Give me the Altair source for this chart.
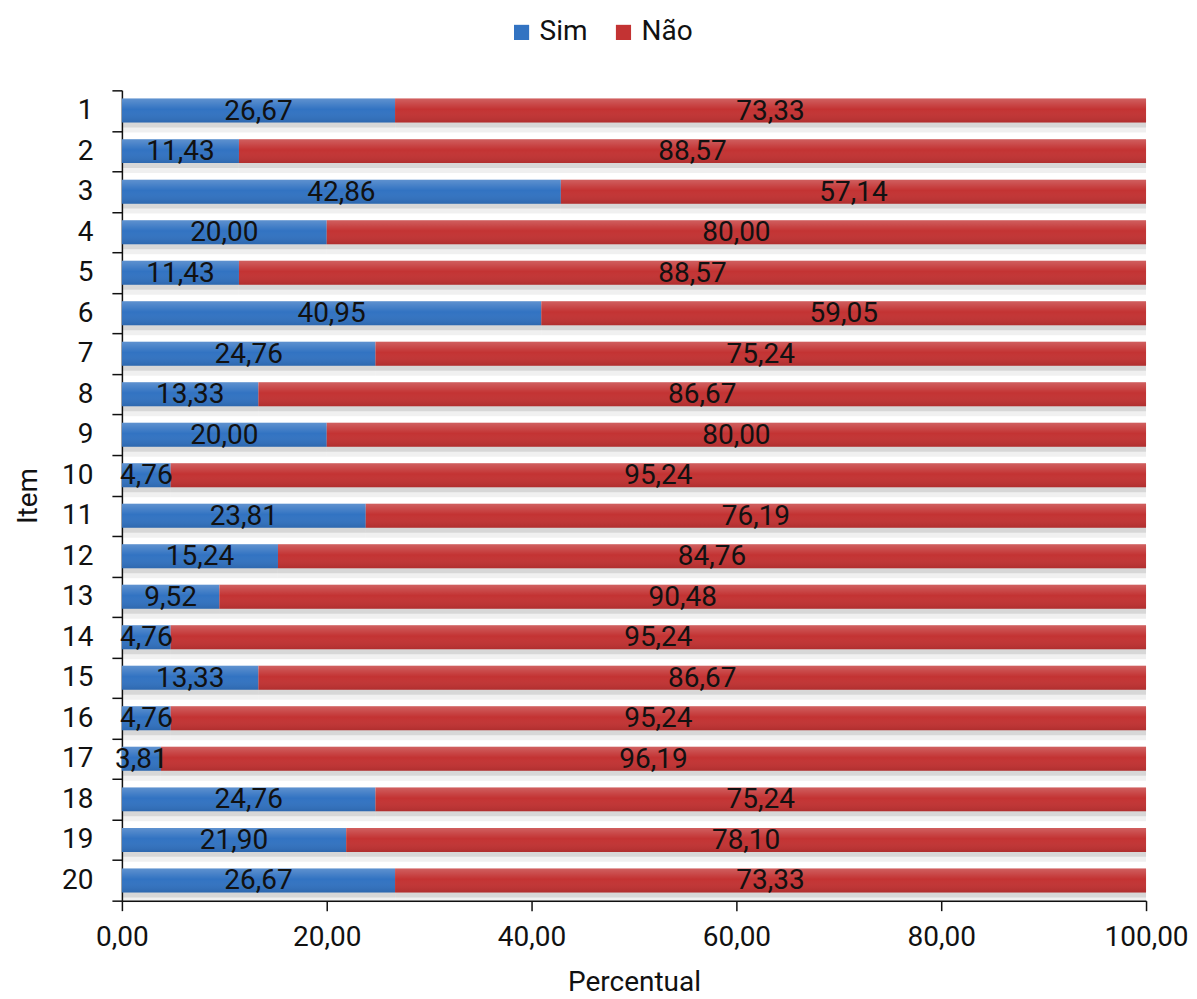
import altair as alt
import pandas as pd

items = [str(i) for i in range(1, 21)]
sim = [26.67, 11.43, 42.86, 20.00, 11.43, 40.95, 24.76, 13.33, 20.00, 4.76,
       23.81, 15.24, 9.52, 4.76, 13.33, 4.76, 3.81, 24.76, 21.90, 26.67]
nao = [73.33, 88.57, 57.14, 80.00, 88.57, 59.05, 75.24, 86.67, 80.00, 95.24,
       76.19, 84.76, 90.48, 95.24, 86.67, 95.24, 96.19, 75.24, 78.10, 73.33]
series = ["Sim", "Não"]
colors = ["#3273C2", "#C33333"]
x_ticks = [0, 20, 40, 60, 80, 100]

rows = []
for i, it in enumerate(items):
    rows.append({"Item": it, "Resposta": "Sim", "ordem": 0, "Valor": sim[i]})
    rows.append({"Item": it, "Resposta": "Não", "ordem": 1, "Valor": nao[i]})
df = pd.DataFrame(rows)

FONT = "Roboto"
FS = 28

base = alt.Chart(df).transform_stack(
    stack="Valor", groupby=["Item"], as_=["x0", "x1"],
    sort=[alt.SortField("ordem", order="ascending")]
).transform_calculate(
    mid="(datum.x0 + datum.x1) / 2",
    rotulo="replace(format(datum.Valor, '.2f'), '.', ',')"
)

y_enc = alt.Y("Item:N", sort=items, title="Item",
              scale=alt.Scale(paddingInner=0, paddingOuter=0),
              axis=alt.Axis(tickBand="extent", tickSize=10, labelPadding=19,
                            titlePadding=19))
x_enc = alt.X("x0:Q", title="Percentual",
              scale=alt.Scale(domain=[0, 100], nice=False),
              axis=alt.Axis(values=x_ticks, tickSize=10, labelPadding=13,
                            titlePadding=17, grid=False, labelFlush=False,
                            labelExpr="replace(format(datum.value, '.2f'), '.', ',')"))

shadow1 = base.mark_bar(color="#000000", opacity=0.06, yOffset=7, size=30).encode(
    y=y_enc, x=x_enc, x2="x1:Q", detail="Resposta:N")
shadow2 = base.mark_bar(color="#000000", opacity=0.10, yOffset=4, size=26).encode(
    y=y_enc, x=x_enc, x2="x1:Q", detail="Resposta:N")

bars = base.mark_bar(size=24).encode(
    y=y_enc, x=x_enc, x2="x1:Q",
    color=alt.Color("Resposta:N", sort=series,
                    scale=alt.Scale(domain=series, range=colors),
                    legend=alt.Legend(title=None, orient="none", direction="horizontal",
                                      legendX=386, legendY=-72,
                                      symbolType="square", symbolSize=230,
                                      labelFontSize=FS, labelFont=FONT,
                                      symbolStrokeWidth=0, columnPadding=22,
                                      labelColor="#111111")),
)

shine = base.mark_bar(size=24, fill=alt.Gradient(
    gradient="linear", x1=0, x2=0, y1=0, y2=1,
    stops=[alt.GradientStop(color="rgba(255,255,255,0.22)", offset=0),
           alt.GradientStop(color="rgba(255,255,255,0.0)", offset=0.45),
           alt.GradientStop(color="rgba(0,0,0,0.10)", offset=1)])).encode(
    y=y_enc, x=x_enc, x2="x1:Q", detail="Resposta:N")

labels = base.mark_text(font=FONT, fontSize=FS, color="#111111", baseline="middle", dy=1).encode(
    y=y_enc, x=alt.X("mid:Q"), text="rotulo:N")

chart = alt.layer(shadow1, shadow2, bars, shine, labels).properties(
    width=1025, height=811,
    padding={"left": 6, "top": 10, "right": 0, "bottom": 0}
).configure_view(stroke=None).configure_axis(
    labelFont=FONT, titleFont=FONT, labelFontSize=FS, titleFontSize=FS,
    labelColor="#111111", titleColor="#111111", titleFontWeight="normal",
    domainColor="#111111", tickColor="#111111", domainWidth=1.5, tickWidth=1.5
)

chart.save("out.html", embed_options={"renderer": "svg", "actions": False})
